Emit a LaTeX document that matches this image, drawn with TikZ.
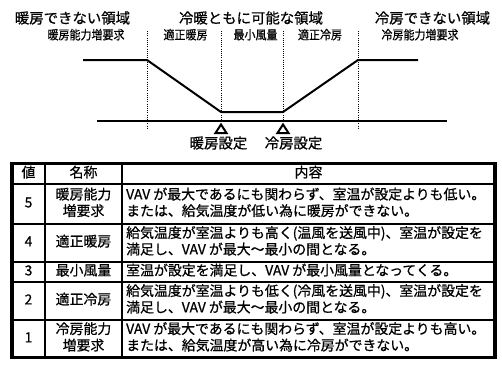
\documentclass[tikz,border=0pt]{standalone}
\usepackage{fontspec}
\usepackage{graphicx}
\setmainfont{Noto Sans CJK JP}[FakeBold=0.7]
\begin{document}
\begin{tikzpicture}[x=1pt,y=-1pt,
  txt/.style={inner sep=0pt,text height=0.84em,text depth=0.16em},
  big/.style={txt,font=\fontsize{14.4}{16}\selectfont},
  small/.style={txt,font=\fontsize{12.5}{14}\selectfont},
  cell/.style={txt,font=\fontsize{13.9}{15}\selectfont},
  prof/.style={line width=2pt,line join=round},
  base/.style={line width=1.3pt},
  dot/.style={line width=0.9pt,dash pattern=on 1pt off 1.2pt},
  tri/.style={line width=2pt,line join=miter},
  outer/.style={line width=3.6pt},
  inner/.style={line width=1.6pt}]
\useasboundingbox (0,0) rectangle (502,372);
\fill[white] (0,0) rectangle (502,372);

% --- header labels
\node[big] (r1) at (72.5,20) {暖房できない領域};
\node[big] (r2) at (251,20) {冷暖ともに可能な領域};
\node[big] (r3) at (432.5,20) {冷房できない領域};
\node[small] (s1) at (86,36) {\scalebox{0.88}[1]{暖房能力増要求}};
\node[small] (s2) at (185.5,36) {\scalebox{0.88}[1]{適正暖房}};
\node[small] (s3) at (255.5,36) {\scalebox{0.88}[1]{最小風量}};
\node[small] (s4) at (320,36) {\scalebox{0.88}[1]{適正冷房}};
\node[small] (s5) at (420,36) {\scalebox{0.88}[1]{冷房能力増要求}};

% --- dotted boundaries
\coordinate (d1t) at (147,31); \coordinate (d1b) at (147,130);
\coordinate (d2t) at (221,31); \coordinate (d2b) at (221,121);
\coordinate (d3t) at (283,31); \coordinate (d3b) at (283,121);
\coordinate (d4t) at (358,31); \coordinate (d4b) at (358,130);
\draw[dot] (d1t) -- (d1b);
\draw[dot] (d2t) -- (d2b);
\draw[dot] (d3t) -- (d3b);
\draw[dot] (d4t) -- (d4b);

% --- base line
\coordinate (b0) at (97,121); \coordinate (b1) at (447,121);
\draw[base] (b0) -- (b1);

% --- profile
\coordinate (p0) at (83,60);
\coordinate (p1) at (147,60);
\coordinate (p2) at (221,112);
\coordinate (p3) at (283,112);
\coordinate (p4) at (358,60);
\coordinate (p5) at (418,60);
\draw[prof] (p0) -- (p1) -- (p2) -- (p3) -- (p4) -- (p5);

% --- set-point triangles
\coordinate (t1) at (221,124.5);
\coordinate (t2) at (283,124.5);
\draw[tri] (t1) -- ++(5.5,8.5) -- ++(-11,0) -- cycle;
\draw[tri] (t2) -- ++(5.5,8.5) -- ++(-11,0) -- cycle;
\node[big] (h1) at (218.5,145) {暖房設定};
\node[big] (h2) at (293.5,145) {冷房設定};

% --- table
\coordinate (tl) at (12,163.5);
\coordinate (br) at (495,357.5);
\draw[inner] (12,184) -- (495,184);
\draw[inner] (12,224) -- (495,224);
\draw[inner] (12,262) -- (495,262);
\draw[inner] (12,282) -- (495,282);
\draw[inner] (12,320) -- (495,320);
\draw[inner] (45,163.5) -- (45,357.5);
\draw[inner] (122,163.5) -- (122,357.5);
\draw[outer] (tl) rectangle (br);

\node[cell] (hv) at (28.5,174) {値};
\node[cell] (hn) at (83.5,174) {名称};
\node[cell] (hc) at (308.5,174) {内容};

\node[cell] (v5) at (28.5,204) {5};
\node[cell] (n5a) at (83.5,196) {暖房能力};
\node[cell] (n5b) at (83.5,212.5) {増要求};
\node[cell,anchor=west] (c5a) at (126,196) {VAV が最大であるにも関わらず、室温が設定よりも低い。};
\node[cell,anchor=west] (c5b) at (126,212.5) {または、給気温度が低い為に暖房ができない。};

\node[cell] (v4) at (28.5,243) {4};
\node[cell] (n4) at (83.5,243) {適正暖房};
\node[cell,anchor=west] (c4a) at (126,234.5) {給気温度が室温よりも高く(温風を送風中)、室温が設定を};
\node[cell,anchor=west] (c4b) at (126,251) {満足し、VAV が最大〜最小の間となる。};

\node[cell] (v3) at (28.5,272) {3};
\node[cell] (n3) at (83.5,272) {最小風量};
\node[cell,anchor=west] (c3) at (126,272) {室温が設定を満足し、VAV が最小風量となってくる。};

\node[cell] (v2) at (28.5,301) {2};
\node[cell] (n2) at (83.5,301) {適正冷房};
\node[cell,anchor=west] (c2a) at (126,292.5) {給気温度が室温よりも低く(冷風を送風中)、室温が設定を};
\node[cell,anchor=west] (c2b) at (126,309) {満足し、VAV が最大〜最小の間となる。};

\node[cell] (v1) at (28.5,339) {1};
\node[cell] (n1a) at (83.5,330.5) {冷房能力};
\node[cell] (n1b) at (83.5,347) {増要求};
\node[cell,anchor=west] (c1a) at (126,330.5) {VAV が最大であるにも関わらず、室温が設定よりも高い。};
\node[cell,anchor=west] (c1b) at (126,347) {または、給気温度が高い為に冷房ができない。};
\end{tikzpicture}
\end{document}
